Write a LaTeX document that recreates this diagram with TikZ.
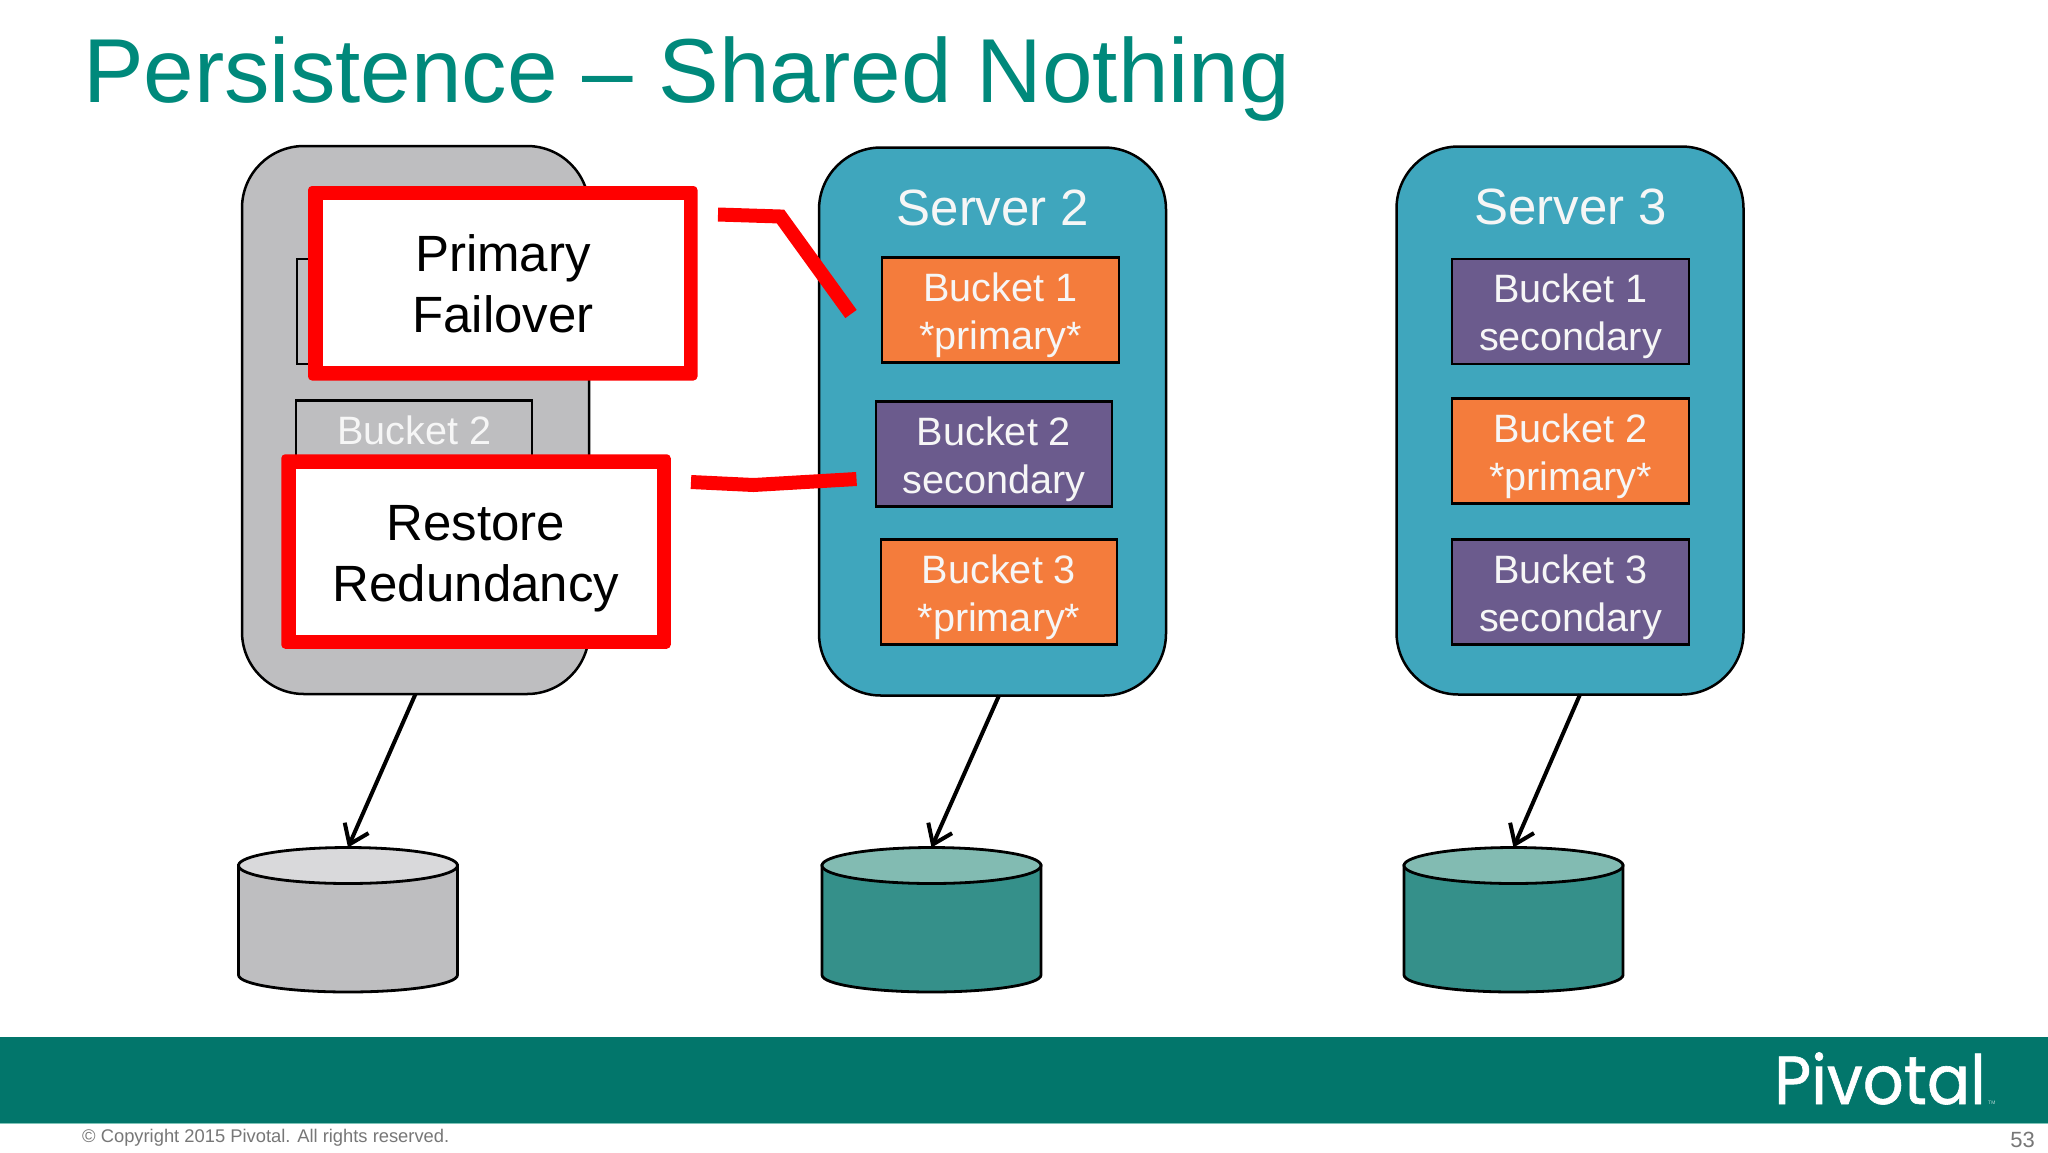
\documentclass[tikz,border=0pt]{standalone}
\usepackage{fontspec}
\setmainfont{Liberation Sans}
\newfontfamily\logofont{Poppins}[FakeStretch=0.94,FakeBold=0.9]
\usetikzlibrary{arrows.meta}
\definecolor{titleteal}{HTML}{00897B}
\definecolor{barteal}{HTML}{02766B}
\definecolor{barline}{HTML}{7FC4B8}
\definecolor{serverblue}{HTML}{3FA6BD}
\definecolor{bktorange}{HTML}{F47C3C}
\definecolor{bktpurple}{HTML}{6B5B8D}
\definecolor{deadgray}{HTML}{BEBEC0}
\definecolor{deadtop}{HTML}{D9D9DB}
\definecolor{cylteal}{HTML}{35908A}
\definecolor{cyltop}{HTML}{82BBB2}
\definecolor{footgray}{HTML}{777777}
\definecolor{softwhite}{HTML}{F6F6F6}
\newcommand{\dn}[1]{\rule{0pt}{#1pt}}
\tikzset{
  server/.style={draw=black,line width=2.5pt,rounded corners=62pt,minimum width=347pt,minimum height=548pt,inner sep=0pt,outer sep=0pt},
  bucket/.style={draw=black,line width=2.3pt,minimum width=236.5pt,minimum height=105pt,inner sep=0pt,outer sep=0pt,text=softwhite,align=center,font=\fontsize{39.6}{48}\selectfont},
  primary/.style={bucket,fill=bktorange},
  secondary/.style={bucket,fill=bktpurple},
  dead/.style={bucket,fill=deadgray},
  serverlabel/.style={text=softwhite,inner sep=0pt,font=\fontsize{51}{60}\selectfont},
  calloutback/.style={fill=red,rounded corners=4pt,minimum width=389.5pt,minimum height=194.5pt,inner sep=0pt,outer sep=0pt},
  callout/.style={fill=white,minimum width=361pt,minimum height=166pt,inner sep=0pt,outer sep=0pt,text=black,align=center,font=\fontsize{51}{61}\selectfont},
  redline/.style={draw=red,line width=14pt},
  dbbox/.style={minimum width=219pt,minimum height=145pt,inner sep=0pt,outer sep=0pt},
  cyl/.style={draw=black,line width=2.8pt},
  store/.style={draw=black,line width=4pt,-{Straight Barb[length=18pt,width=26pt,line width=4pt]}},
}
\newcommand{\dbcyl}[4]{%
  \node[dbbox] (#1) at (#2,920) {};
  \begin{scope}[shift={(#2,0)}]
    \draw[cyl,fill=#3] (-109.5,865.5) -- (-109.5,975) arc[x radius=109.5,y radius=17,start angle=180,end angle=0] -- (109.5,865.5) -- cycle;
    \draw[cyl,fill=#4] (0,865.5) ellipse [x radius=109.5,y radius=18];
  \end{scope}
}
\begin{document}
\begin{tikzpicture}[x=1pt,y=-1pt]
\useasboundingbox (0,0) rectangle (2048,1152);
\fill[white] (0,0) rectangle (2048,1152);
% title
\node[anchor=base west,inner sep=0pt,text=titleteal,font=\fontsize{90.85}{100}\selectfont] (title) at (83,102) {Persistence – Shared Nothing};
% servers
\node[server,fill=deadgray] (s1) at (415.5,420) {};
\node[server,fill=serverblue] (s2) at (992.5,421.5) {};
\node[server,fill=serverblue] (s3) at (1570,420.5) {};
\node[serverlabel] (s2l) at (993,207.5) {Server 2};
\node[serverlabel] (s3l) at (1570.5,206.5) {Server 3};
% buckets, server 1
\node[dead] (s1b1) at (415,311.5) {};
\node[dead,minimum width=236pt,minimum height=106pt,anchor=north west] (s1b2) at (296,400.5) {};
\node[text=softwhite,inner sep=0pt,font=\fontsize{39.6}{48}\selectfont] (s1b2l) at (414.5,430) {Bucket 2};
% buckets, server 2
\node[primary] (s2b1) at (1000.5,310) {\dn{39}Bucket 1\\*primary*};
\node[secondary] (s2b2) at (994,454) {\dn{39}Bucket 2\\secondary};
\node[primary] (s2b3) at (999,592) {\dn{39}Bucket 3\\*primary*};
% buckets, server 3
\node[secondary] (s3b1) at (1570.5,311.5) {\dn{39}Bucket 1\\secondary};
\node[primary] (s3b2) at (1570.5,451) {\dn{39}Bucket 2\\*primary*};
\node[secondary] (s3b3) at (1570.5,592) {\dn{39}Bucket 3\\secondary};
% callouts
\node[calloutback] (pfb0) at (502.75,283.25) {};
\node[callout] (pf) at (503,283) {\dn{39}Primary\\Failover};
\node[calloutback] (rrb0) at (476,551.5) {};
\node[callout] (rr) at (476,551.5) {\dn{49}Restore\\Redundancy};
\coordinate (pfa) at (718,214.5);
\coordinate (pfb) at (780.5,216.5);
\coordinate (pfc) at (851,314);
\coordinate (rra) at (691,482);
\coordinate (rrb) at (753.5,485);
\coordinate (rrc) at (856.5,479);
\draw[redline] (pfa) -- (pfb) -- (pfc);
\draw[redline] (rra) -- (rrb) -- (rrc);
% disks
\dbcyl{d1}{348}{deadgray}{deadtop}
\dbcyl{d2}{931.5}{cylteal}{cyltop}
\dbcyl{d3}{1513.5}{cylteal}{cyltop}
\draw[store] (s1.south) -- (d1.north);
\draw[store] ([xshift=6.5pt]s2.south) -- (d2.north);
\draw[store] ([xshift=10pt]s3.south) -- (d3.north);
% footer
\fill[barline] (0,1122) rectangle (2048,1124);
\fill[barteal] (0,1037) rectangle (2048,1123);
\node[anchor=base west,inner sep=0pt,text=white,font=\logofont\fontsize{68}{76}\selectfont] (logo) at (1774,1104) {Pivotal};
\node[anchor=base west,inner sep=0pt,text=white!70!barteal,font=\fontsize{5}{6}\selectfont] (tm) at (1988,1104) {TM};
\node[anchor=base west,inner sep=0pt,text=footgray,font=\fontsize{18.35}{22}\selectfont] (copy) at (82,1142) {© Copyright 2015 Pivotal. All rights reserved.};
\node[anchor=base east,inner sep=0pt,text=footgray,font=\fontsize{22}{26}\selectfont] (page) at (2035,1147) {53};
\end{tikzpicture}
\end{document}
